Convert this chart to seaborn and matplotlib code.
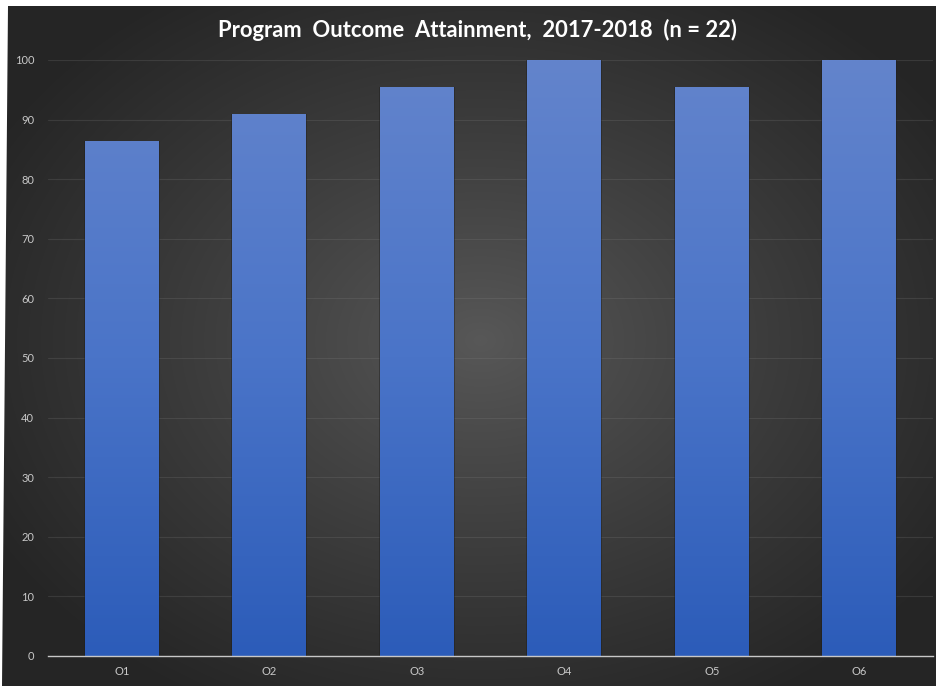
import numpy as np
import pandas as pd
import matplotlib
matplotlib.use("Agg")
import matplotlib.pyplot as plt
from matplotlib.colors import LinearSegmentedColormap
from matplotlib.patches import Polygon
import seaborn as sns

# Attainment percentages per program outcome
outcomes = ["O1", "O2", "O3", "O4", "O5", "O6"]
attainment = [86.4, 90.9, 95.5, 100.0, 95.5, 100.0]
y_ticks = [0, 10, 20, 30, 40, 50, 60, 70, 80, 90, 100]
title = "Program  Outcome  Attainment,  2017-2018  (n = 22)"

df = pd.DataFrame({"outcome": outcomes, "attainment": attainment})

sns.set_theme(style="dark")
plt.rcParams["font.family"] = ["Lato", "DejaVu Sans"]

W, H = 937, 686
fig = plt.figure(figsize=(W / 100, H / 100), dpi=100, facecolor="#262626")

# Radial dark-gray backdrop
bg = fig.add_axes([0, 0, 1, 1], zorder=-10)
yy, xx = np.mgrid[0:H, 0:W]
cx, cy = 480, 340
r = np.sqrt(((xx - cx) / 560.0) ** 2 + ((yy - cy) / 420.0) ** 2)
r = np.clip(r, 0, 1)
inner = np.array([0x58, 0x58, 0x58]) / 255.0
outer = np.array([0x25, 0x25, 0x25]) / 255.0
t = r[..., None] ** 0.9
img = inner * (1 - t) + outer * t
bg.imshow(img, extent=[0, W, H, 0], aspect="auto", interpolation="bilinear")
bg.set_xlim(0, W)
bg.set_ylim(H, 0)
bg.axis("off")

# White margins along the top and left edges
bg.add_patch(Polygon([[0, 0], [W, 0], [W, 6], [8, 6], [2, H], [0, H]],
                     closed=True, facecolor="white", edgecolor="none", zorder=5))

ax = fig.add_axes([48 / W, 30 / H, (933 - 48) / W, (656 - 60) / H])
ax.set_facecolor("none")

sns.barplot(data=df, x="outcome", y="attainment", ax=ax, width=0.5,
            color="#4472C4", saturation=1, edgecolor="none")

ax.set_ylim(0, 100)
ax.set_xlim(-0.5, len(outcomes) - 0.5)
ax.set_yticks(y_ticks)
ax.set_yticklabels([str(v) for v in y_ticks])
ax.set_xlabel("")
ax.set_ylabel("")

# Vertical blue gradient fill clipped to each bar
cmap = LinearSegmentedColormap.from_list("barblue", ["#2C5CB9", "#4A74C8", "#6384CC"])
grad = np.linspace(0, 1, 256).reshape(-1, 1)
for p in list(ax.patches):
    x0, y0 = p.get_x(), p.get_y()
    w, h = p.get_width(), p.get_height()
    p.set_facecolor("none")
    # soft dark shadow around the bar
    ax.bar(x0 + w / 2, h, width=w + 0.012, bottom=y0, color="#1e1e1e",
           alpha=0.45, zorder=1.5, edgecolor="none")
    im = ax.imshow(grad, cmap=cmap, origin="lower", aspect="auto",
                   extent=[x0, x0 + w, 0, 100], zorder=2, interpolation="bilinear")
    im.set_clip_path(p)
    p.set_zorder(2.5)

ax.set_xlim(-0.5, len(outcomes) - 0.5)
ax.set_ylim(0, 100)

for v in y_ticks[1:]:
    ax.axhline(v, color="#8a8a8a", alpha=0.2, lw=0.8, zorder=1)
ax.grid(False)

for side in ["top", "right", "left"]:
    ax.spines[side].set_visible(False)
ax.spines["bottom"].set_color("#c8c8c8")
ax.spines["bottom"].set_linewidth(1.0)
ax.spines["bottom"].set_zorder(3)

ax.tick_params(axis="both", length=0, colors="#c8c8c8", labelsize=8)
ax.tick_params(axis="y", pad=10)
ax.tick_params(axis="x", pad=7)

fig.text(478 / W, 1 - 30 / H, title, ha="center", va="center",
         color="white", fontsize=15.8, fontweight="bold")

fig.savefig("out.png", dpi=100, facecolor=fig.get_facecolor())
